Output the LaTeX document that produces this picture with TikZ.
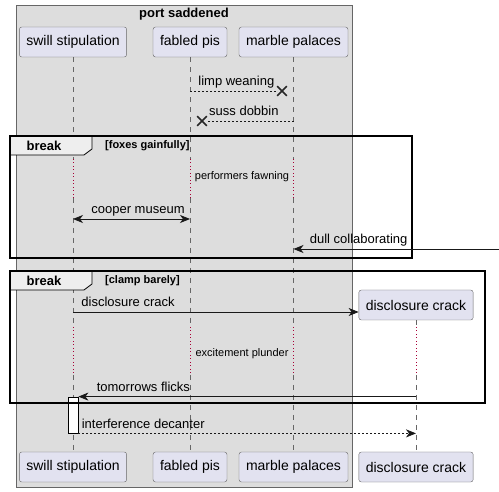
\documentclass[tikz,border=0pt]{standalone}
\usepackage{fontspec}
\setmainfont{Liberation Sans}
\usetikzlibrary{arrows.meta,shapes.misc}
\definecolor{partfill}{HTML}{E2E2F0}
\definecolor{boxfill}{HTML}{DDDDDD}
\definecolor{tabfill}{HTML}{EEEEEE}
\definecolor{delayred}{HTML}{A80036}
\begin{document}
\begin{tikzpicture}[x=1pt,y=-1pt,>={Stealth[length=10pt,width=8pt,inset=3pt]}]
        \tikzstyle{party}=[draw=black!60,fill=partfill,rounded corners=2.5pt,minimum height=30pt,inner xsep=7pt,font=\fontsize{14}{16}\selectfont]
        \tikzstyle{life}=[draw=black!60,line width=0.5pt,dash pattern=on 5pt off 5pt]
        \tikzstyle{delay}=[draw=delayred,line width=1pt,dash pattern=on 1pt off 2.5pt]
        \tikzstyle{msg}=[draw=black!90,line width=0.8pt]
        \tikzstyle{reply}=[msg,dash pattern=on 2pt off 2pt]
        \tikzstyle{lbl}=[anchor=base west,inner sep=0pt,yshift=5pt,font=\fontsize{13}{15}\selectfont]
        \tikzstyle{kill}=[cross out,draw=black!85,line width=1.6pt,minimum size=8pt,inner sep=0pt]
        \tikzstyle{frame}=[draw=black,line width=1.5pt]
        \tikzstyle{tab}=[draw=black,line width=0.8pt,fill=tabfill]
        \tikzstyle{note}=[inner sep=0pt,font=\fontsize{11}{13}\selectfont]
        \useasboundingbox (0,0) rectangle (499,492);
       \begin{scope}
         % box round the first three
         \draw[draw=black!60,fill=boxfill] (16,5) rectangle (352,487);
         \node [anchor=base,inner sep=0pt,font=\fontsize{13}{15}\selectfont\bfseries] (title) at (184,18) {port saddened};

         \node [party] (ss) at (73,42) {swill stipulation};
         \node [party] (fp) at (190,42) {fabled pis};
         \node [party] (mp) at (293.5,42) {marble palaces};
         \node [party] (dc) at (416,305) {disclosure crack};
         \node [party] (bss) at (73,467) {swill stipulation};
         \node [party] (bfp) at (190,467) {fabled pis};
         \node [party] (bmp) at (293.5,467) {marble palaces};
         \node [party] (bdc) at (416,467) {disclosure crack};

         \coordinate (d1a) at (0,159);
         \coordinate (d1b) at (0,198);
         \coordinate (d2a) at (0,327);
         \coordinate (d2b) at (0,375);

         % lifelines
         \foreach \p in {ss,fp,mp} {
           \draw[life] (\p.south) -- (\p |- d1a);
           \draw[delay] (\p |- d1a) -- (\p |- d1b);
           \draw[life] (\p |- d1b) -- (\p |- d2a);
           \draw[delay] (\p |- d2a) -- (\p |- d2b);
           \draw[life] (\p |- d2b) -- (b\p.north);
         }
         \draw[life] (dc.south) -- (dc |- d2a);
         \draw[delay] (dc |- d2a) -- (dc |- d2b);
         \draw[life] (dc |- d2b) -- (bdc.north);

         \node [kill] (x1) at (282,91) {};
         \coordinate (m1) at (fp |- x1);
         \path[reply] (m1) -- node[lbl,pos=0,xshift=8pt] {limp weaning} (x1);

         \node [kill] (x2) at (202,121) {};
         \coordinate (m2) at (mp |- x2);
         \path[reply] (m2) -- node[lbl,pos=1,xshift=2pt] {suss dobbin} (x2);

         % first break
         \draw[tab] (10,136) -- (92,136) -- (92,149) -- (84,155) -- (10,155) -- cycle;
         \draw[frame] (10,136) rectangle (412,258);
         \node [anchor=base,inner sep=0pt,font=\fontsize{13}{15}\selectfont\bfseries] (b1) at (44,151) {break};
         \node [anchor=base west,inner sep=0pt,font=\fontsize{11}{13}\selectfont\bfseries] (g1) at (105,149) {[foxes gainfully]};
         \node [note] (pf) at (242,177) {performers fawning};

         \coordinate (c1) at (ss |- 0,219);
         \coordinate (c2) at (fp |- c1);
         \path[msg,<->] (c1) -- node[lbl,pos=0,xshift=18pt] {cooper museum} (c2);

         \coordinate (dsrc) at (499,249);
         \coordinate (dtgt) at (mp |- dsrc);
         \path[msg,->] (dsrc) -- node[lbl,pos=1,xshift=16pt] {dull collaborating} (dtgt);

         % second break
         \node [draw=black,fill=white,line width=0.8pt,minimum width=10pt,minimum height=36pt,inner sep=0pt] (act) at (73,415) {};
         \draw[tab] (10,271) -- (92,271) -- (92,284) -- (84,290) -- (10,290) -- cycle;
         \draw[frame] (10,271) rectangle (485,403);
         \node [anchor=base,inner sep=0pt,font=\fontsize{13}{15}\selectfont\bfseries] (b2) at (44,286) {break};
         \node [anchor=base west,inner sep=0pt,font=\fontsize{11}{13}\selectfont\bfseries] (g2) at (105,284) {[clamp barely]};

         \coordinate (k1) at (ss |- 0,312);
         \coordinate (k2) at (dc.west |- k1);
         \path[msg,->] (k1) -- node[lbl,pos=0,xshift=8pt] {disclosure crack} (k2);

         \node [note] (ep) at (242,354) {excitement plunder};

         \coordinate (t1) at (dc |- act.north);
         \path[msg,->] (t1) -- node[lbl,pos=1,xshift=18pt] {tomorrows flicks} (act.north east);

         \coordinate (i2) at (dc |- act.south);
         \path[reply,->] (act.south east) -- node[lbl,pos=0,xshift=3pt] {interference decanter} (i2);
        \end{scope}
      \end{tikzpicture}
\end{document}
